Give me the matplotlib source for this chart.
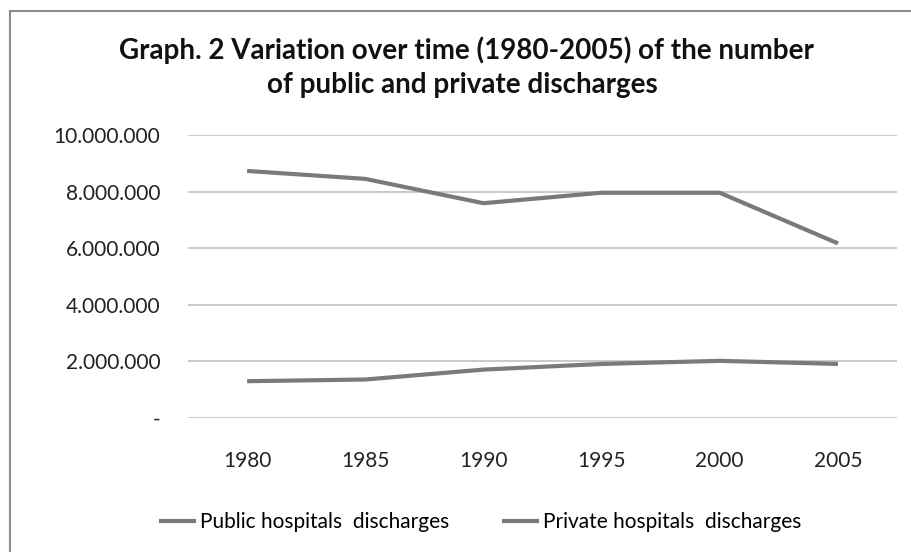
import matplotlib
matplotlib.use("Agg")
import matplotlib.pyplot as plt
from matplotlib.lines import Line2D
from matplotlib.ticker import FixedLocator, FuncFormatter

years = ["1980", "1985", "1990", "1995", "2000", "2005"]
public_discharges = [8730000, 8450000, 7590000, 7960000, 7960000, 6170000]
private_discharges = [1300000, 1360000, 1710000, 1910000, 2020000, 1910000]
series_names = ["Public hospitals  discharges", "Private hospitals  discharges"]
y_ticks = [0, 2000000, 4000000, 6000000, 8000000, 10000000]

plt.rcParams["font.family"] = ["Lato", "DejaVu Sans"]

W, H = 911, 552
fig = plt.figure(figsize=(W / 100, H / 100), dpi=100)
fig.patch.set_facecolor("white")

# chart frame (left and top edges fall inside the image)
fig.add_artist(Line2D([10 / W, 10 / W], [1 - 11 / H, 0], color="#8c8c8c", lw=1.5))
fig.add_artist(Line2D([10 / W, 1], [1 - 11 / H, 1 - 11 / H], color="#8c8c8c", lw=1.5))

ax = fig.add_axes([188 / W, 1 - 418 / H, (897 - 188) / W, (418 - 135) / H])
x = list(range(len(years)))
line_color = "#7a7a7a"
ax.plot(x, public_discharges, color=line_color, lw=3.0, solid_capstyle="butt")
ax.plot(x, private_discharges, color=line_color, lw=3.0, solid_capstyle="butt")

ax.set_xlim(-0.5, len(years) - 0.5)
ax.set_ylim(0, 10000000)
ax.yaxis.set_major_locator(FixedLocator(y_ticks))
ax.yaxis.set_major_formatter(
    FuncFormatter(lambda v, p: "-" if v == 0 else f"{int(v):,}".replace(",", "."))
)
ax.set_xticks(x)
ax.set_xticklabels(years)
ax.grid(axis="y", color="#c0c0c0", lw=1.2)
ax.set_axisbelow(True)
for s in ax.spines.values():
    s.set_visible(False)
ax.tick_params(axis="both", length=0, labelsize=15, colors="#222222")
ax.tick_params(axis="y", pad=20)
ax.tick_params(axis="x", pad=24)

fig.text(466 / W, 1 - 50 / H, "Graph. 2 Variation over time (1980-2005) of the number",
         ha="center", va="center", fontsize=20, fontweight="bold", color="#111111")
fig.text(462 / W, 1 - 85 / H, "of public and private discharges",
         ha="center", va="center", fontsize=20, fontweight="bold", color="#111111")

handles = [Line2D([], [], color=line_color, lw=3.0) for _ in series_names]
fig.legend(handles, series_names, loc="center", bbox_to_anchor=(481 / W, 1 - 522 / H),
           ncol=2, frameon=False, fontsize=15, handlelength=1.6, handletextpad=0.3,
           columnspacing=2.6)

fig.savefig("out.png", dpi=100, facecolor="white")
